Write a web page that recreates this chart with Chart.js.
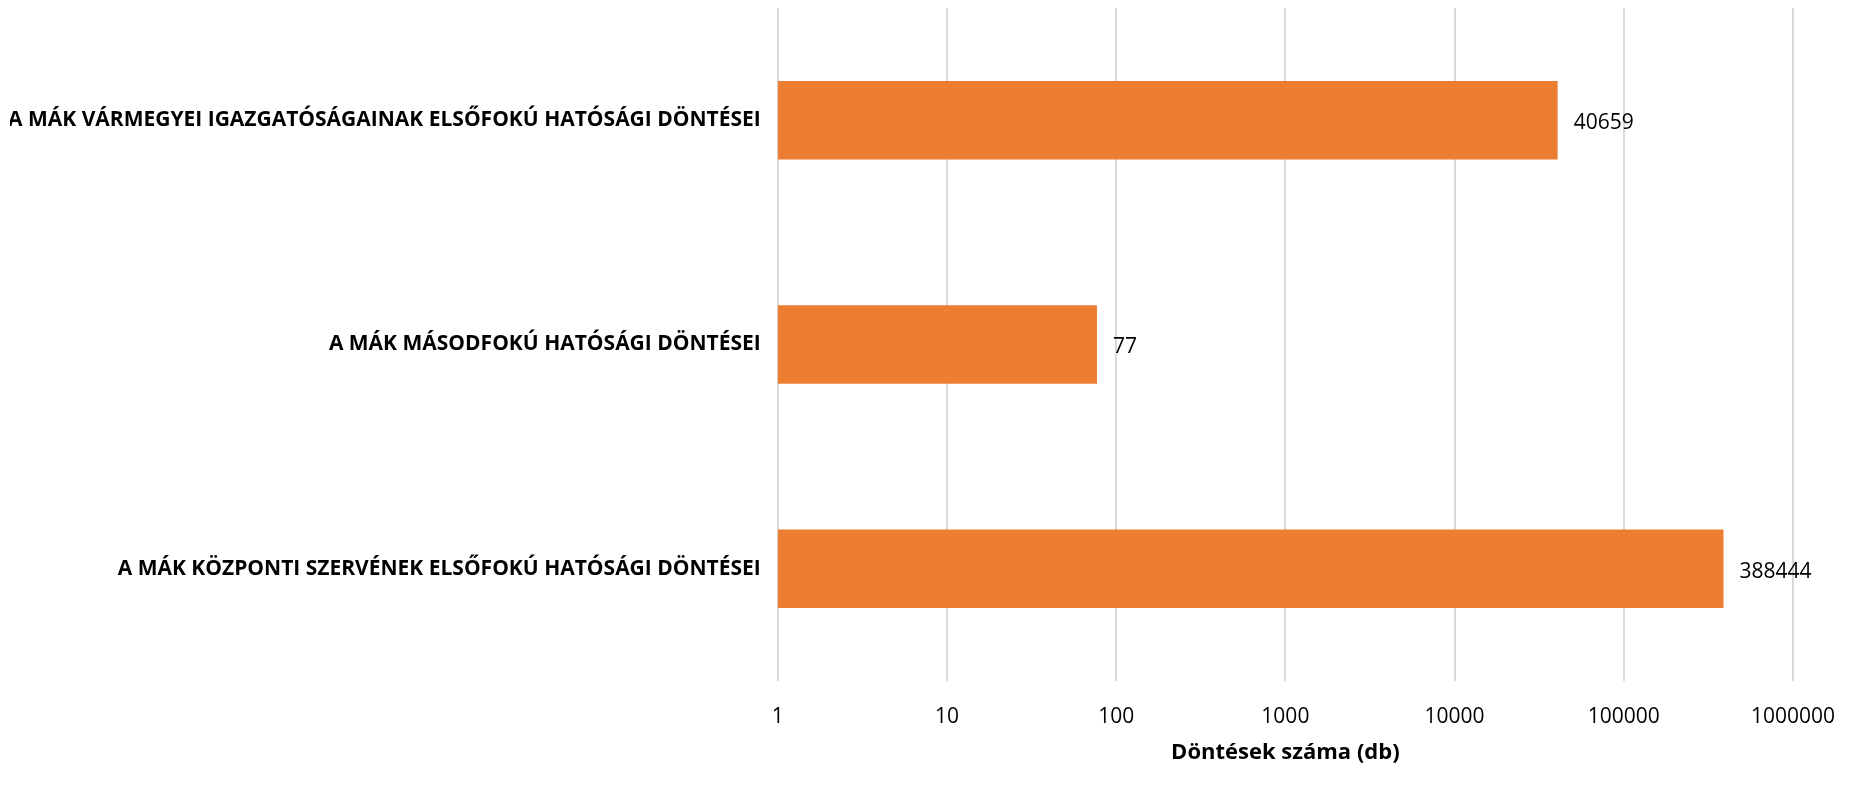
<!DOCTYPE html>
<html>
<head>
<meta charset="utf-8">
<script src="https://cdn.jsdelivr.net/npm/chart.js@4.4.1/dist/chart.umd.min.js"></script>
<style>
  html, body { margin: 0; padding: 0; background: #fff; }
  #wrap { width: 1861px; height: 792px; position: relative; }
</style>
</head>
<body>
<div id="wrap"><canvas id="chartCanvas"></canvas></div>
<script>
const categories = [
  "A MÁK VÁRMEGYEI IGAZGATÓSÁGAINAK ELSŐFOKÚ HATÓSÁGI DÖNTÉSEI",
  "A MÁK MÁSODFOKÚ HATÓSÁGI DÖNTÉSEI",
  "A MÁK KÖZPONTI SZERVÉNEK ELSŐFOKÚ HATÓSÁGI DÖNTÉSEI"
];
const decisions = [40659, 77, 388444];
const xTicks = [1, 10, 100, 1000, 10000, 100000, 1000000];
const axisTitle = "Döntések száma (db)";

const FONT = "'Open Sans', 'Noto Sans', sans-serif";

// value labels at the end of each bar
const valueLabels = {
  id: 'valueLabels',
  afterDatasetsDraw(chart) {
    const c = chart.ctx;
    const meta = chart.getDatasetMeta(0);
    c.save();
    c.font = `21px ${FONT}`;
    c.fillStyle = '#000';
    c.textAlign = 'left';
    c.textBaseline = 'middle';
    meta.data.forEach((bar, i) => {
      c.fillText(String(decisions[i]), bar.x + 16, bar.y + 3);
    });
    c.restore();
  }
};

const canvas = document.getElementById('chartCanvas');
new Chart(canvas.getContext('2d'), {
  type: 'bar',
  data: {
    labels: categories,
    datasets: [{
      data: decisions,
      backgroundColor: '#ED7D31',
      borderWidth: 0,
      barPercentage: 0.35,
      categoryPercentage: 1
    }]
  },
  plugins: [valueLabels],
  options: {
    indexAxis: 'y',
    responsive: true,
    maintainAspectRatio: false,
    animation: false,
    layout: { padding: { top: 8, right: 60, bottom: 28, left: 10 } },
    plugins: {
      legend: { display: false },
      tooltip: { enabled: false }
    },
    scales: {
      x: {
        type: 'logarithmic',
        min: 1,
        max: 1000000,
        afterBuildTicks: axis => { axis.ticks = xTicks.map(v => ({ value: v })); },
        afterFit: axis => { axis.paddingLeft = 0; },
        ticks: {
          callback: v => String(v),
          font: { family: FONT, size: 21, lineHeight: 1 },
          color: '#000',
          padding: 26,
          maxRotation: 0
        },
        grid: { color: '#d9d9d9', lineWidth: 2, drawTicks: false },
        border: { display: false },
        title: {
          display: true,
          text: axisTitle,
          font: { family: FONT, size: 22, weight: 'bold', lineHeight: 1 },
          color: '#000',
          padding: { top: -12, bottom: 0 }
        }
      },
      y: {
        afterFit: axis => { axis.paddingTop = 0; axis.paddingBottom = 0; axis.width -= 19; },
        ticks: {
          font: { family: FONT, size: 21, weight: 'bold' },
          color: '#000',
          padding: 17
        },
        grid: { display: false, drawTicks: false },
        border: { display: false }
      }
    }
  }
});
</script>
</body>
</html>
